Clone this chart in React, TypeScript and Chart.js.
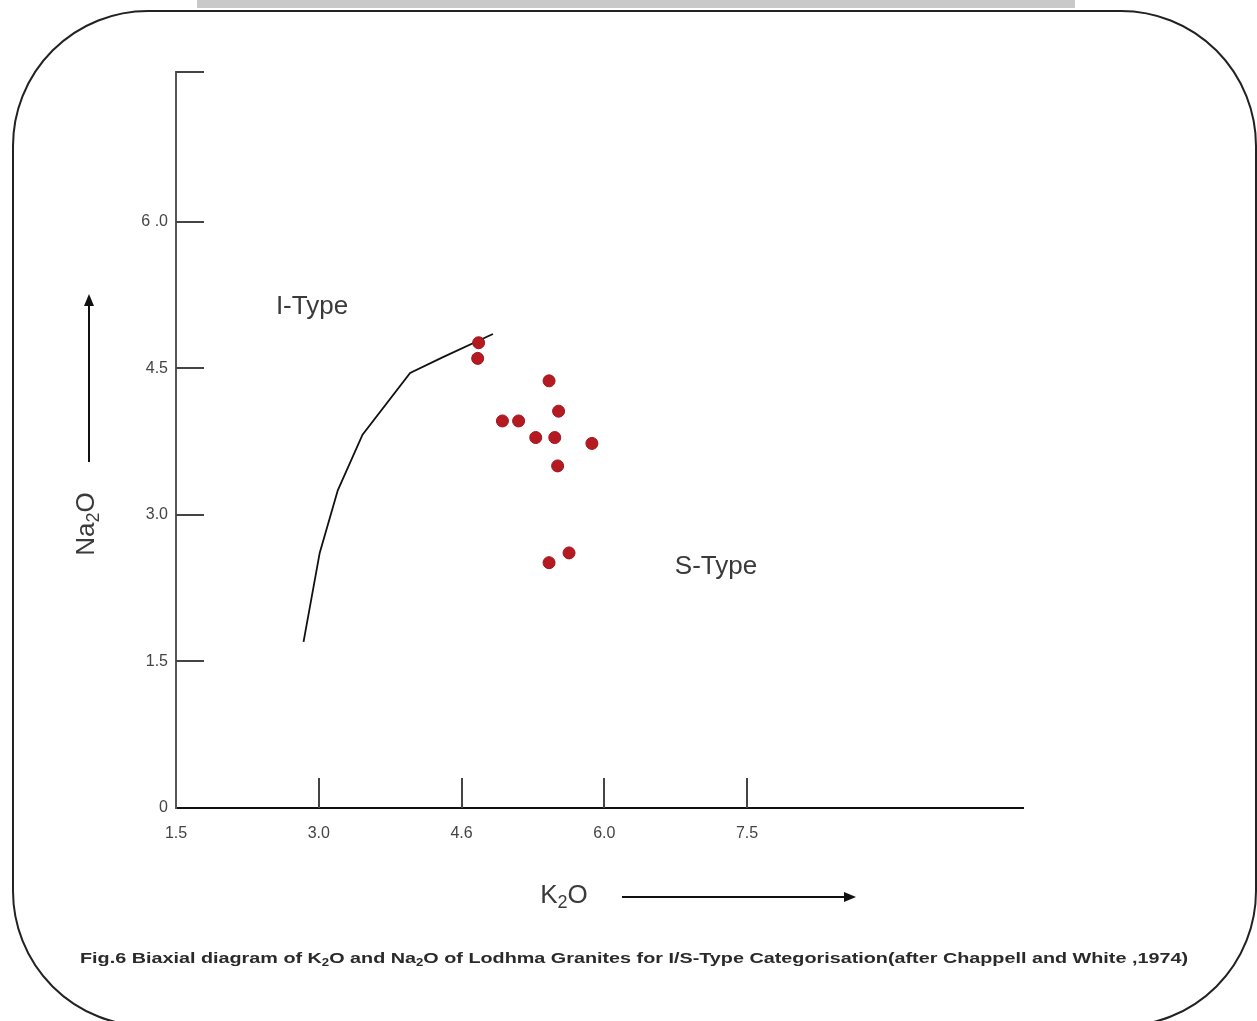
import React, { useEffect, useRef } from "react";
import { Chart, registerables } from "chart.js";

Chart.register(...registerables);

// ---- data ----
const sampleK2O = [4.68, 4.67, 5.42, 5.52, 4.93, 5.10, 5.28, 5.48, 5.87, 5.51, 5.63, 5.42];
const sampleNa2O = [4.76, 4.60, 4.37, 4.06, 3.96, 3.96, 3.79, 3.79, 3.73, 3.50, 2.61, 2.51];

const boundaryK2O = [2.84, 3.01, 3.20, 3.46, 3.96, 4.30, 4.83];
const boundaryNa2O = [1.70, 2.61, 3.25, 3.82, 4.45, 4.61, 4.85];

const xTickValues = [1.5, 3.0, 4.5, 6.0, 7.5];
const xTickLabels = ["1.5", "3.0", "4.6", "6.0", "7.5"];
const yTickValues = [0, 1.5, 3.0, 4.5, 6.0];
const yTickLabels = ["0", "1.5", "3.0", "4.5", "6 .0"];
const yTickMarks = [1.5, 3.0, 4.5, 6.0, 7.53];
const xTickMarks = [3.0, 4.5, 6.0, 7.5];

const FONT = "'Liberation Sans Narrow', 'Liberation Sans', Arial, sans-serif";

type Seg = { t: string; sub?: boolean };

function drawRich(
  ctx: CanvasRenderingContext2D,
  segs: Seg[],
  x: number,
  y: number,
  size: number,
  weight: string,
  align: "left" | "center",
  targetWidth?: number
) {
  const mainFont = `${weight} ${size}px ${FONT}`;
  const subFont = `${weight} ${Math.round(size * 0.68)}px ${FONT}`;
  let total = 0;
  const widths = segs.map((s) => {
    ctx.font = s.sub ? subFont : mainFont;
    const w = ctx.measureText(s.t).width;
    total += w;
    return w;
  });
  const sx = targetWidth ? targetWidth / total : 1;
  ctx.save();
  ctx.translate(x, y);
  ctx.scale(sx, 1);
  let cx = align === "center" ? -total / 2 : 0;
  ctx.textBaseline = "middle";
  ctx.textAlign = "left";
  segs.forEach((s, i) => {
    ctx.font = s.sub ? subFont : mainFont;
    ctx.fillText(s.t, cx, s.sub ? size * 0.28 : 0);
    cx += widths[i];
  });
  ctx.restore();
}

const decorPlugin = {
  id: "decor",
  beforeDraw(chart: any) {
    const ctx: CanvasRenderingContext2D = chart.ctx;
    ctx.save();
    ctx.fillStyle = "#ffffff";
    ctx.fillRect(0, 0, chart.width, chart.height);
    // gray bar at top
    ctx.fillStyle = "#c9c9c9";
    ctx.fillRect(197, 0, 878, 8);
    // rounded frame
    ctx.strokeStyle = "#222";
    ctx.lineWidth = 2;
    ctx.beginPath();
    (ctx as any).roundRect(13, 11, 1243, 1015, 135);
    ctx.stroke();
    ctx.restore();
  },
  afterDatasetsDraw(chart: any) {
    const ctx: CanvasRenderingContext2D = chart.ctx;
    const xs = chart.scales.x;
    const ys = chart.scales.y;
    const left = chart.chartArea.left;
    const bottom = chart.chartArea.bottom;
    ctx.save();
    // inward ticks
    ctx.strokeStyle = "#444";
    ctx.lineWidth = 2;
    yTickMarks.forEach((v) => {
      const py = Math.round(ys.getPixelForValue(v));
      ctx.beginPath();
      ctx.moveTo(left, py);
      ctx.lineTo(left + 28, py);
      ctx.stroke();
    });
    xTickMarks.forEach((v) => {
      const px = Math.round(xs.getPixelForValue(v));
      ctx.beginPath();
      ctx.moveTo(px, bottom);
      ctx.lineTo(px, bottom - 30);
      ctx.stroke();
    });
    ctx.restore();
  },
  afterDraw(chart: any) {
    const ctx: CanvasRenderingContext2D = chart.ctx;
    ctx.save();
    ctx.fillStyle = "#3a3a3a";
    // region labels
    drawRich(ctx, [{ t: "I-Type" }], 312, 307, 26, "normal", "center");
    drawRich(ctx, [{ t: "S-Type" }], 716, 567, 26, "normal", "center");
    // x title
    drawRich(ctx, [{ t: "K" }, { t: "2", sub: true }, { t: "O" }], 564, 896, 26, "normal", "center");
    // y title (rotated)
    ctx.save();
    ctx.translate(87, 524);
    ctx.rotate(-Math.PI / 2);
    drawRich(ctx, [{ t: "Na" }, { t: "2", sub: true }, { t: "O" }], 0, 0, 26, "normal", "center");
    ctx.restore();
    // arrows
    ctx.strokeStyle = "#111";
    ctx.fillStyle = "#111";
    ctx.lineWidth = 2;
    ctx.beginPath();
    ctx.moveTo(622, 897);
    ctx.lineTo(846, 897);
    ctx.stroke();
    ctx.beginPath();
    ctx.moveTo(856, 897);
    ctx.lineTo(844, 892);
    ctx.lineTo(844, 902);
    ctx.closePath();
    ctx.fill();
    ctx.beginPath();
    ctx.moveTo(89, 462);
    ctx.lineTo(89, 304);
    ctx.stroke();
    ctx.beginPath();
    ctx.moveTo(89, 294);
    ctx.lineTo(84, 306);
    ctx.lineTo(94, 306);
    ctx.closePath();
    ctx.fill();
    // caption
    ctx.fillStyle = "#2a2a2a";
    drawRich(
      ctx,
      [
        { t: "Fig.6 Biaxial diagram of K" },
        { t: "2", sub: true },
        { t: "O and Na" },
        { t: "2", sub: true },
        { t: "O of Lodhma Granites for I/S-Type Categorisation(after Chappell and White ,1974)" },
      ],
      80,
      959,
      15,
      "bold",
      "left",
      1108
    );
    ctx.restore();
  },
};

export default function App() {
  const ref = useRef<HTMLCanvasElement | null>(null);
  useEffect(() => {
    if (!ref.current) return;
    const chart = new Chart(ref.current, {
      type: "scatter",
      data: {
        datasets: [
          {
            label: "Samples",
            data: sampleK2O.map((x, i) => ({ x, y: sampleNa2O[i] })),
            backgroundColor: "#b51a22",
            borderColor: "#a0151c",
            borderWidth: 1,
            pointRadius: 6,
            order: 1,
          },
          {
            label: "I/S boundary",
            data: boundaryK2O.map((x, i) => ({ x, y: boundaryNa2O[i] })),
            showLine: true,
            borderColor: "#111",
            borderWidth: 1.8,
            pointRadius: 0,
            tension: 0,
            order: 2,
          },
        ],
      },
      options: {
        animation: false,
        responsive: false,
        events: [],
        layout: { padding: { top: 72, right: 234, left: 0, bottom: 0 } },
        plugins: { legend: { display: false }, tooltip: { enabled: false } },
        scales: {
          x: {
            type: "linear",
            min: 1.5,
            max: 10.4,
            afterFit(scale: any) {
              scale.height = 213;
            },
            afterBuildTicks(scale: any) {
              scale.ticks = xTickValues.map((v) => ({ value: v }));
            },
            grid: { display: true, drawOnChartArea: false, drawTicks: false },
            border: { display: true, color: "#111", width: 2 },
            ticks: {
              padding: 16,
              color: "#444",
              font: { family: FONT, size: 16 },
              maxRotation: 0,
              callback: (v: any) => {
                const i = xTickValues.indexOf(Number(v));
                return i >= 0 ? xTickLabels[i] : "";
              },
            },
          },
          y: {
            type: "linear",
            min: 0,
            max: 7.53,
            afterFit(scale: any) {
              scale.width = 176;
            },
            afterBuildTicks(scale: any) {
              scale.ticks = yTickValues.map((v) => ({ value: v }));
            },
            grid: { display: true, drawOnChartArea: false, drawTicks: false },
            border: { display: true, color: "#555", width: 2 },
            ticks: {
              padding: 8,
              color: "#444",
              font: { family: FONT, size: 16 },
              callback: (v: any) => {
                const i = yTickValues.indexOf(Number(v));
                return i >= 0 ? yTickLabels[i] : "";
              },
            },
          },
        },
      },
      plugins: [decorPlugin],
    });
    return () => chart.destroy();
  }, []);
  return (
    <div style={{ position: "absolute", left: 0, top: 0, width: 1257, height: 1021, background: "#fff" }}>
      <canvas ref={ref} width={1257} height={1021} style={{ display: "block" }} />
    </div>
  );
}
